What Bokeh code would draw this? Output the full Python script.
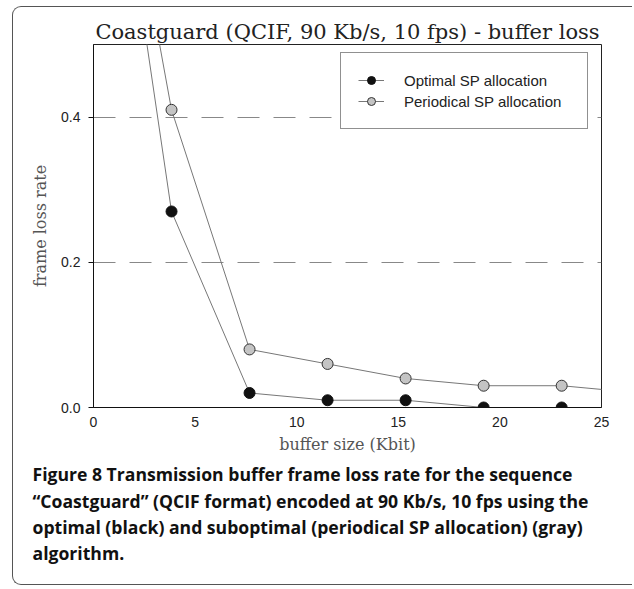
from bokeh.plotting import figure
from bokeh.models import Legend, LegendItem, Title, FixedTicker, Range1d, NumeralTickFormatter
from bokeh.embed import file_html
from bokeh.resources import INLINE

# ---- data ----
buffer_kbit = [0.0, 3.84, 7.68, 11.52, 15.36, 19.2, 23.04, 26.88]
optimal_loss = [1.0, 0.27, 0.02, 0.01, 0.01, 0.0, 0.0, 0.0]
periodical_loss = [1.0, 0.41, 0.08, 0.06, 0.04, 0.03, 0.03, 0.02]
x_ticks = [0, 5, 10, 15, 20, 25]
y_ticks = [0.0, 0.2, 0.4]
grid_ticks = [0.2, 0.4]
series_names = ["Optimal SP allocation", "Periodical SP allocation"]
title_text = "Coastguard (QCIF, 90 Kb/s, 10 fps) - buffer loss"
x_label = "buffer size (Kbit)"
y_label = "frame loss rate"
caption_lines = [
    "Figure 8 Transmission buffer frame loss rate for the sequence",
    "\u201cCoastguard\u201d (QCIF format) encoded at 90 Kb/s, 10 fps using the",
    "optimal (black) and suboptimal (periodical SP allocation) (gray)",
    "algorithm.",
]

W, H = 620, 579
p = figure(width=W, height=H, output_backend="svg", toolbar_location=None,
           x_range=Range1d(0, 25), y_range=Range1d(0, 0.5),
           min_border_left=80, min_border_right=32, min_border_top=37, min_border_bottom=179,
           margin=(6, 0, 0, 12))
p.styles = {"border-left": "1px solid #555555", "border-top": "1px solid #555555",
            "border-bottom": "1px solid #555555",
            "border-top-left-radius": "9px", "border-bottom-left-radius": "9px"}
p.background_fill_color = "white"
p.border_fill_alpha = 0
p.outline_line_color = "#222222"
p.outline_line_width = 1

# title
p.title.text = title_text
p.title.align = "center"
p.title.text_font = "DejaVu Serif"
p.title.text_font_size = "21px"
p.title.text_font_style = "normal"
p.title.text_color = "#222222"
p.title.standoff = 2

# grid
p.xgrid.visible = False
p.ygrid.ticker = FixedTicker(ticks=grid_ticks)
p.ygrid.grid_line_color = "#888888"
p.ygrid.grid_line_dash = "22 14"
p.ygrid.grid_line_width = 1

# axes
for ax in (p.xaxis, p.yaxis):
    ax.axis_line_color = "#111111"
    ax.axis_line_width = 1
    ax.minor_tick_line_color = None
    ax.major_label_text_font = "Liberation Sans"
    ax.major_label_text_font_size = "14px"
    ax.major_label_text_color = "#222222"
    ax.axis_label_text_font = "DejaVu Serif"
    ax.axis_label_text_font_size = "16px"
    ax.axis_label_text_font_style = "normal"
    ax.axis_label_text_color = "#555555"

p.xaxis.ticker = FixedTicker(ticks=x_ticks)
p.xaxis.major_tick_line_color = None
p.xaxis.major_tick_out = 0
p.xaxis.major_tick_in = 0
p.xaxis.major_label_standoff = 9
p.xaxis.axis_label = x_label
p.xaxis.axis_label_standoff = 5

p.yaxis.ticker = FixedTicker(ticks=y_ticks)
p.yaxis.formatter = NumeralTickFormatter(format="0.0")
p.yaxis.major_tick_line_color = "#111111"
p.yaxis.major_tick_out = 5
p.yaxis.major_tick_in = 0
p.yaxis.major_label_standoff = 8
p.yaxis.axis_label = y_label
p.yaxis.axis_label_standoff = 8

# series
l1 = p.line(buffer_kbit, optimal_loss, line_color="#777777", line_width=1)
s1 = p.scatter(buffer_kbit, optimal_loss, size=11, fill_color="#111111", line_color="#111111")
l2 = p.line(buffer_kbit, periodical_loss, line_color="#777777", line_width=1)
s2 = p.scatter(buffer_kbit, periodical_loss, size=11, fill_color="#c4c4c4", line_color="#333333", line_width=1)

legend = Legend(items=[LegendItem(label=series_names[0], renderers=[l1, s1]),
                       LegendItem(label=series_names[1], renderers=[l2, s2])],
                location=(247, 278), orientation="vertical",
                glyph_width=26, glyph_height=20, label_height=20, label_width=166,
                padding=17, spacing=1, label_standoff=20, margin=0,
                border_line_color="#222222", border_line_width=1,
                background_fill_color="white", background_fill_alpha=1,
                label_text_font="Liberation Sans", label_text_font_size="15px",
                label_text_color="#222222")
p.add_layout(legend, "center")

# caption as a multi-line title below the x axis
cap = Title(text="\n".join(caption_lines), align="left", offset=-61, standoff=8,
            text_font="Open Sans", text_font_style="bold", text_font_size="17.6px",
            text_line_height=1.1, text_color="#111111")
p.add_layout(cap, "below")

open("out.html", "w").write(file_html(p, INLINE))
